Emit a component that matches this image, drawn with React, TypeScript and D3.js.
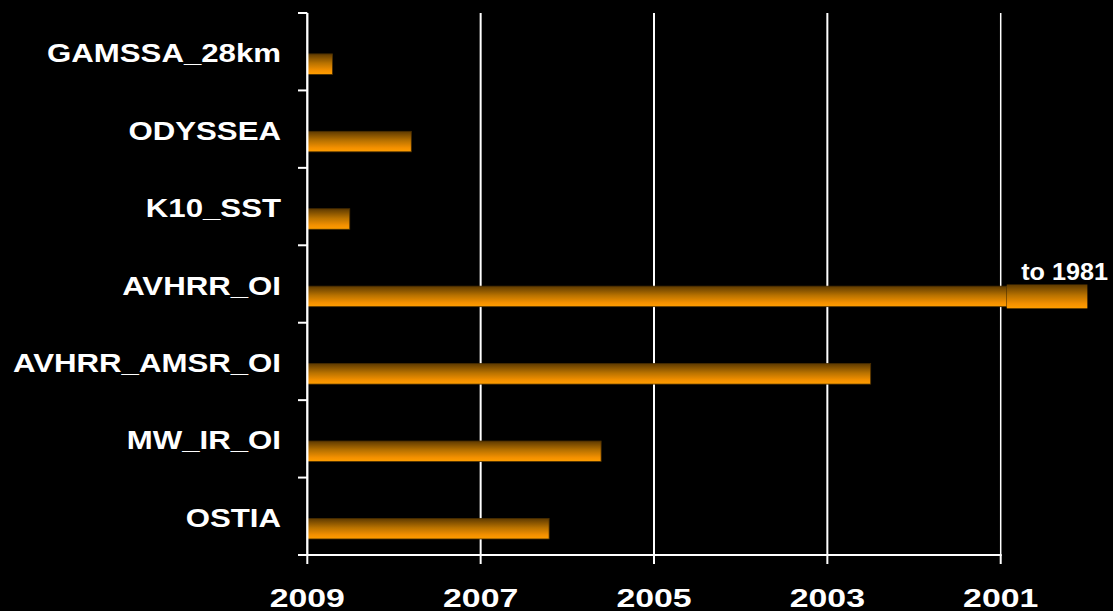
import React from "react";
import * as d3 from "d3";

const categories = ["GAMSSA_28km", "ODYSSEA", "K10_SST", "AVHRR_OI", "AVHRR_AMSR_OI", "MW_IR_OI", "OSTIA"];
const startYears = [2008.71, 2007.8, 2008.51, 2000.93, 2002.5, 2005.61, 2006.21];
const tickYears = [2009, 2007, 2005, 2003, 2001];
const extensionCategory = "AVHRR_OI";
const extensionFrom = 2000.93;
const extensionTo = 2000.0;
const extensionLabel = "to 1981";

const W = 1113;
const H = 611;
const FONT = "'Liberation Sans', Arial, sans-serif";

export default function App() {
  const x = d3.scaleLinear().domain([2009, 2001]).range([307.3, 1000.7]);
  const y = d3.scaleBand<string>().domain(categories).range([13, 555]);
  const bw = y.bandwidth();
  const barOff = 0.528 * bw;
  const barH = 0.265 * bw;
  const boundaries = d3.range(categories.length + 1).map((i) => 13 + i * bw);
  const extY = (y(extensionCategory) as number) + barOff;

  return (
    <svg width={W} height={H} style={{ position: "absolute", left: 0, top: 0, display: "block" }}>
      <defs>
        <linearGradient id="barGrad" x1="0" y1="0" x2="0" y2="1">
          <stop offset="0" stopColor="#5e3a00" />
          <stop offset="0.45" stopColor="#b87200" />
          <stop offset="0.8" stopColor="#f39000" />
          <stop offset="1" stopColor="#ff9e00" />
        </linearGradient>
      </defs>
      <rect x={0} y={0} width={W} height={H} fill="#000" />
      {tickYears.slice(1).map((t) => (
        <line key={t} x1={x(t)} x2={x(t)} y1={13} y2={555} stroke="#fff" strokeWidth={t === 2001 ? 1.5 : 2} />
      ))}
      {categories.map((c, i) => (
        <rect
          key={c}
          x={x(2009)}
          y={(y(c) as number) + barOff}
          width={x(startYears[i]) - x(2009)}
          height={barH}
          fill="url(#barGrad)"
          stroke="#4a2e00"
          strokeWidth={0.8}
        />
      ))}
      <rect
        x={x(extensionFrom)}
        y={extY - 1.7}
        width={x(extensionTo) - x(extensionFrom)}
        height={barH + 3.4}
        fill="url(#barGrad)"
      />
      <text
        transform={`translate(1108,280) scale(1.05,1)`}
        textAnchor="end"
        fill="#fff"
        fontFamily={FONT}
        fontWeight="bold"
        fontSize={24}
      >
        {extensionLabel}
      </text>
      <line x1={x(2009)} x2={x(2009)} y1={13} y2={555} stroke="#fff" strokeWidth={2.3} />
      {boundaries.map((b, i) => (
        <line key={i} x1={298} x2={x(2009)} y1={b} y2={b} stroke="#fff" strokeWidth={2} />
      ))}
      <line x1={298} x2={x(2001) + 1} y1={555} y2={555} stroke="#fff" strokeWidth={2} />
      {tickYears.map((t) => (
        <line key={t} x1={x(t)} x2={x(t)} y1={555} y2={564} stroke="#fff" strokeWidth={2} />
      ))}
      {tickYears.map((t) => (
        <text
          key={t}
          transform={`translate(${x(t)},607) scale(1.3,1)`}
          textAnchor="middle"
          fill="#fff"
          fontFamily={FONT}
          fontWeight="bold"
          fontSize={26}
        >
          {t}
        </text>
      ))}
      {categories.map((c) => (
        <text
          key={c}
          transform={`translate(281,${(y(c) as number) + bw / 2 + 10.5}) scale(1.2,1)`}
          textAnchor="end"
          fill="#fff"
          fontFamily={FONT}
          fontWeight="bold"
          fontSize={26}
        >
          {c}
        </text>
      ))}
    </svg>
  );
}
